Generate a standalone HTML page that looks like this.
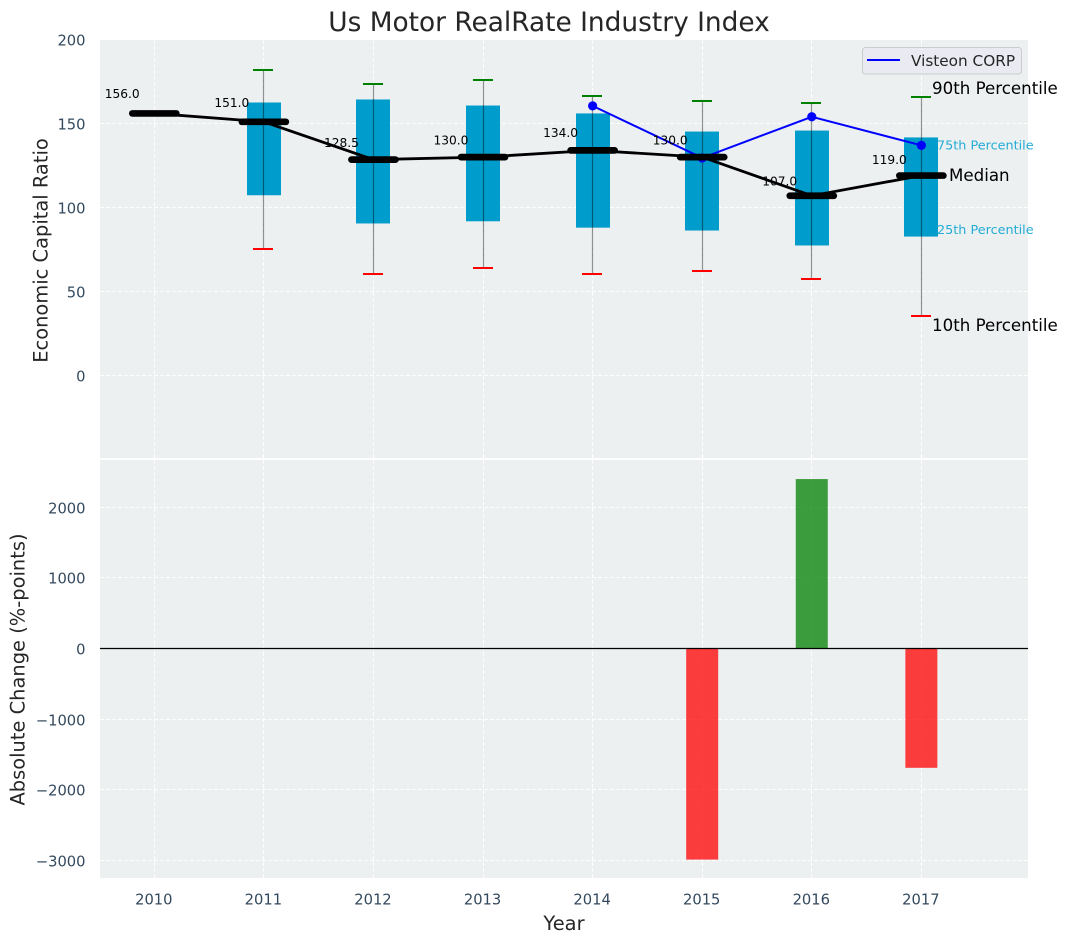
<!DOCTYPE html>
<html lang="en">
<head>
<meta charset="utf-8">
<title>Us Motor RealRate Industry Index</title>
<style>
html,body{margin:0;padding:0;background:#fff;width:1067px;height:942px;overflow:hidden}
svg{display:block}
text{font-family:"DejaVu Sans","Liberation Sans",sans-serif}
</style>
</head>
<body>
<svg id="chart" xmlns="http://www.w3.org/2000/svg" width="1067" height="942" viewBox="0 0 1067 942">
  <rect x="100" y="40" width="928" height="418" fill="#ecf0f1"/>
  <rect x="100" y="460" width="928" height="418" fill="#ecf0f1"/>
  <g id="grid"></g>
  <g id="bottom-marks"></g>
  <g id="top-marks"></g>
  <g id="ticks"></g>
  <text x="549" y="31" text-anchor="middle" font-size="26.4" fill="#262626">Us Motor RealRate Industry Index</text>
  <text transform="translate(47.5,250.5) rotate(-90)" text-anchor="middle" font-size="19.44" fill="#262626">Economic Capital Ratio</text>
  <text transform="translate(24.5,669.5) rotate(-90)" text-anchor="middle" font-size="19.44" fill="#262626">Absolute Change (%-points)</text>
  <text x="564" y="930" text-anchor="middle" font-size="19.44" fill="#262626">Year</text>
  <g>
    <rect x="862.5" y="47.5" width="159" height="26.5" rx="3" fill="#eaeaf2" fill-opacity="0.8" stroke="#cccccc"/>
    <line x1="867" x2="900" y1="60" y2="60" stroke="#0000ff" stroke-width="2"/>
    <text x="911" y="66" font-size="15.28" fill="#262626">Visteon CORP</text>
  </g>
  <text x="932" y="94" font-size="16.67" fill="#000">90th Percentile</text>
  <text x="937" y="149.3" font-size="12.8" fill="#00a0d0" fill-opacity="0.85">75th Percentile</text>
  <text x="949" y="181" font-size="16.67" fill="#000">Median</text>
  <text x="937" y="234" font-size="12.8" fill="#00a0d0" fill-opacity="0.85">25th Percentile</text>
  <text x="932" y="331" font-size="16.67" fill="#000">10th Percentile</text>
</svg>
<script>
const years = [2010, 2011, 2012, 2013, 2014, 2015, 2016, 2017];
const p90 = [null, 182, 173.8, 176, 166.5, 163.6, 162.5, 166];
const p75 = [null, 162.5, 164.3, 160.7, 156, 145.2, 145.8, 141.7];
const medians = [156, 151, 128.5, 130, 134, 130, 107, 119];
const p25 = [null, 107.3, 90.5, 91.8, 88, 86.3, 77.4, 82.7];
const p10 = [null, 75.3, 60.7, 64, 60.7, 62.5, 57.7, 35.7];
const visteon = [null, null, null, null, 160.5, 129.5, 154, 137];
const changes = [null, null, null, null, null, -2990, 2400, -1690];
const topTicks = [0, 50, 100, 150, 200];
const bottomTicks = [-3000, -2000, -1000, 0, 1000, 2000];

const NS = 'http://www.w3.org/2000/svg';
const xScale = v => 154.3 + (v - 2010) * 109.58;
const yTop = v => 375.5 - v * 1.68;
const yBottom = v => 648.5 - v * 0.0706;
const snap = v => Math.floor(v) + 0.5;
const gridG = document.getElementById('grid');
const barsG = document.getElementById('bottom-marks');
const topG = document.getElementById('top-marks');
const ticksG = document.getElementById('ticks');

function shape(tag, parent, props) {
  const el = document.createElementNS(NS, tag);
  for (const k in props) el.setAttribute(k, props[k]);
  parent.appendChild(el);
  return el;
}
const fmt = v => String(v).replace('-', '\u2212');

years.forEach(yr => {
  const x = snap(xScale(yr));
  const top = shape('line', gridG, {x1: x, x2: x, y1: 40, y2: 458, stroke: '#fff', 'stroke-width': 1, 'stroke-dasharray': '4 2', 'stroke-opacity': 0.9});
  
  
  const bot = shape('line', gridG, {x1: x, x2: x, y1: 460, y2: 878, stroke: '#fff', 'stroke-width': 1, 'stroke-dasharray': '4 2', 'stroke-opacity': 0.9});
  
  
  const label = shape('text', ticksG, {x: xScale(yr) - 0.5, y: 904.5, 'text-anchor': 'middle', 'font-size': 14.7, fill: '#34495e'});
  label.textContent = yr;
  
  
});

topTicks.forEach(t => {
  const y = snap(yTop(t));
  const g = shape('line', gridG, {x1: 100, x2: 1028, y1: y, y2: y, stroke: '#fff', 'stroke-width': 1, 'stroke-dasharray': '4 2', 'stroke-opacity': 0.9});
  
  
  const label = shape('text', ticksG, {x: 85.5, y: y + 6, 'text-anchor': 'end', 'font-size': 14.7, fill: '#34495e'});
  label.textContent = fmt(t);
  
  
});

bottomTicks.forEach(t => {
  const y = snap(yBottom(t));
  const g = shape('line', gridG, {x1: 100, x2: 1028, y1: y, y2: y, stroke: '#fff', 'stroke-width': 1, 'stroke-dasharray': '4 2', 'stroke-opacity': 0.9});
  
  
  const label = shape('text', ticksG, {x: 85.5, y: y + 6, 'text-anchor': 'end', 'font-size': 14.7, fill: '#34495e'});
  label.textContent = fmt(t);
  
  
});

years.forEach((yr, i) => {
  if (changes[i] === null) return;
  const x = xScale(yr);
  const y0 = yBottom(0);
  const y1 = yBottom(changes[i]);
  const color = changes[i] >= 0 ? '#008000' : '#ff0000';
  const bar = shape('rect', barsG, {x: x - 16, y: Math.min(y0, y1), width: 32, height: Math.abs(y1 - y0), fill: color, 'fill-opacity': 0.75});
  
  
});
const zero = shape('line', barsG, {x1: 100, x2: 1028, y1: yBottom(0), y2: yBottom(0), stroke: '#000', 'stroke-width': 1.3});



years.forEach((yr, i) => {
  if (p75[i] === null) return;
  const x = xScale(yr);
  const px = snap(x);
  const box = shape('rect', topG, {x: Math.round(x - 17), y: yTop(p75[i]), width: 34, height: yTop(p25[i]) - yTop(p75[i]), fill: '#009ccb'});
  
  
  const whisker = shape('line', topG, {x1: px, x2: px, y1: yTop(p90[i]), y2: yTop(p10[i]), stroke: '#000', 'stroke-opacity': 0.42, 'stroke-width': 1.2});
  
  
  const capHi = shape('line', topG, {x1: px - 10.5, x2: px + 9.5, y1: Math.round(yTop(p90[i])), y2: Math.round(yTop(p90[i])), stroke: '#008000', 'stroke-width': 2});
  
  
  const capLo = shape('line', topG, {x1: px - 10.5, x2: px + 9.5, y1: Math.round(yTop(p10[i])), y2: Math.round(yTop(p10[i])), stroke: '#ff0000', 'stroke-width': 2});
  
  
});

const visteonPts = years.map((yr, i) => visteon[i] === null ? null : xScale(yr) + ',' + yTop(visteon[i])).filter(Boolean);
const visteonLine = shape('polyline', topG, {points: visteonPts.join(' '), fill: 'none', stroke: '#0000ff', 'stroke-width': 2});


years.forEach((yr, i) => {
  if (visteon[i] === null) return;
  const dot = shape('circle', topG, {cx: xScale(yr), cy: yTop(visteon[i]), r: 4.6, fill: '#0000ff'});
  
  
});

const medianPts = years.map((yr, i) => xScale(yr) + ',' + yTop(medians[i]));
const medianLine = shape('polyline', topG, {points: medianPts.join(' '), fill: 'none', stroke: '#000', 'stroke-width': 2.8});


years.forEach((yr, i) => {
  const x = xScale(yr);
  const y = yTop(medians[i]);
  const bar = shape('line', topG, {x1: x - 22, x2: x + 22, y1: y, y2: y, stroke: '#000', 'stroke-width': 6.7, 'stroke-linecap': 'round'});
  
  
  const label = shape('text', topG, {x: x - 49.5, y: yTop(medians[i] * 1.06) + 0.3, 'font-size': 12.2, fill: '#000'});
  label.textContent = medians[i].toFixed(1);
  
  
});
</script>
</body>
</html>
